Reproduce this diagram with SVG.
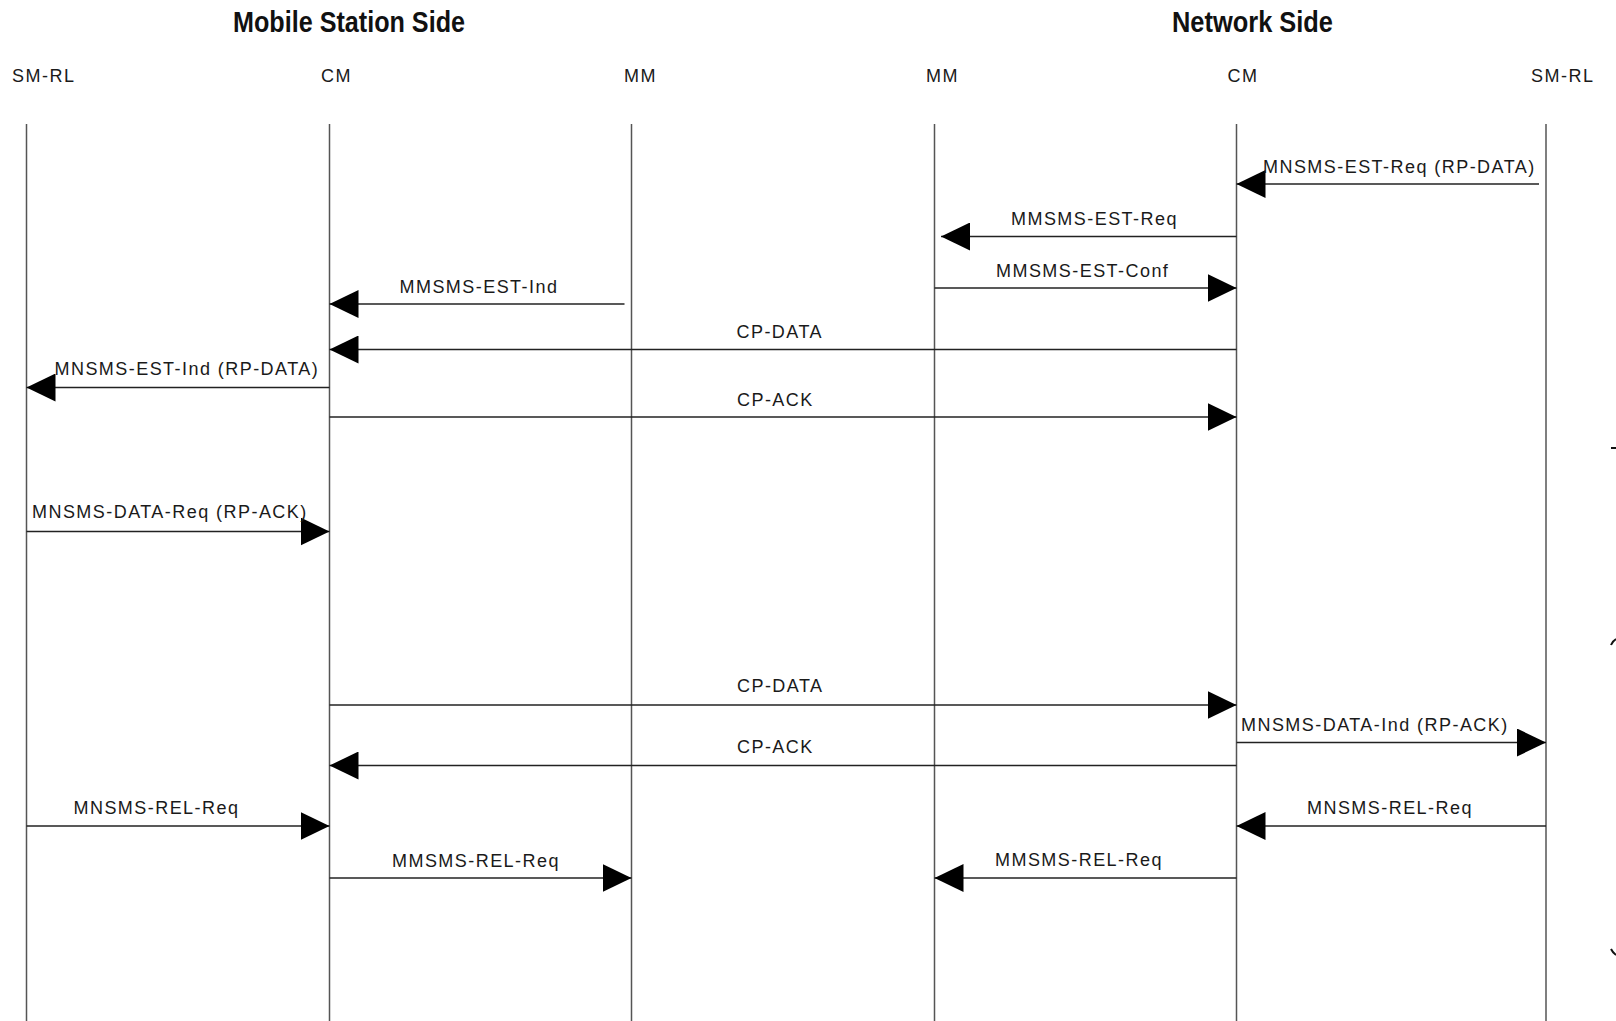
<svg xmlns="http://www.w3.org/2000/svg" width="1616" height="1021" viewBox="0 0 1616 1021">
<style>
.title{font-family:"Liberation Sans",Arial,sans-serif;font-weight:bold;font-size:29px;fill:#111}
.hdr{font-family:"Liberation Sans",Arial,sans-serif;font-size:18px;letter-spacing:1.5px;fill:#1a1a1a}
.lbl{font-family:"Liberation Sans",Arial,sans-serif;font-size:18px;letter-spacing:1.45px;fill:#1a1a1a}
.life{stroke:#555;stroke-width:1.5;fill:none}
.msg{stroke:#222;stroke-width:1.3;fill:none;marker-end:url(#ah)}
.edge{stroke:#111;stroke-width:2;fill:none}
</style>
<defs>
<marker id="ah" markerUnits="userSpaceOnUse" markerWidth="30" markerHeight="28" refX="29" refY="14" orient="auto">
<path d="M0,0 L29,14 L0,28 Z" fill="#000"/>
</marker>
</defs>
<rect width="1616" height="1021" fill="#fff"/>
<g id="titles">
<text class="title" x="233" y="31.5" textLength="232" lengthAdjust="spacingAndGlyphs">Mobile Station Side</text>
<text class="title" x="1172" y="31.5" textLength="161" lengthAdjust="spacingAndGlyphs">Network Side</text>
</g>
<g id="ms-smrl"><text class="hdr" x="12" y="81.5">SM-RL</text><line class="life" x1="26.5" y1="124" x2="26.5" y2="1021"/></g>
<g id="ms-cm"><text class="hdr" x="321" y="81.5">CM</text><line class="life" x1="329.5" y1="124" x2="329.5" y2="1021"/></g>
<g id="ms-mm"><text class="hdr" x="624" y="81.5">MM</text><line class="life" x1="631.5" y1="124" x2="631.5" y2="1021"/></g>
<g id="nw-mm"><text class="hdr" x="926" y="81.5">MM</text><line class="life" x1="934.5" y1="124" x2="934.5" y2="1021"/></g>
<g id="nw-cm"><text class="hdr" x="1227.5" y="81.5">CM</text><line class="life" x1="1236.5" y1="124" x2="1236.5" y2="1021"/></g>
<g id="nw-smrl"><text class="hdr" x="1531" y="81.5">SM-RL</text><line class="life" x1="1546" y1="124" x2="1546" y2="1021"/></g>
<g id="connectors">
<line class="msg" x1="1539" y1="184" x2="1236.5" y2="184"/>
<text class="lbl" x="1263" y="172.5">MNSMS-EST-Req (RP-DATA)</text>
<line class="msg" x1="1236.5" y1="236.5" x2="941" y2="236.5"/>
<text class="lbl" x="1011" y="225">MMSMS-EST-Req</text>
<line class="msg" x1="934.5" y1="288" x2="1236.5" y2="288"/>
<text class="lbl" x="996" y="277">MMSMS-EST-Conf</text>
<line class="msg" x1="624.5" y1="304" x2="329.5" y2="304"/>
<text class="lbl" x="399.5" y="293">MMSMS-EST-Ind</text>
<line class="msg" x1="1236.5" y1="349.5" x2="329.5" y2="349.5"/>
<text class="lbl" x="736.5" y="338">CP-DATA</text>
<line class="msg" x1="329.5" y1="387.5" x2="26.5" y2="387.5"/>
<text class="lbl" x="54.5" y="375">MNSMS-EST-Ind (RP-DATA)</text>
<line class="msg" x1="329.5" y1="417" x2="1236.5" y2="417"/>
<text class="lbl" x="737" y="406">CP-ACK</text>
<line class="msg" x1="26.5" y1="531.5" x2="329.5" y2="531.5"/>
<text class="lbl" x="32" y="518">MNSMS-DATA-Req (RP-ACK)</text>
<line class="msg" x1="329.5" y1="705" x2="1236.5" y2="705"/>
<text class="lbl" x="737" y="692">CP-DATA</text>
<line class="msg" x1="1236.5" y1="742.5" x2="1546" y2="742.5"/>
<text class="lbl" x="1241" y="731">MNSMS-DATA-Ind (RP-ACK)</text>
<line class="msg" x1="1236.5" y1="765.5" x2="329.5" y2="765.5"/>
<text class="lbl" x="737" y="753">CP-ACK</text>
<line class="msg" x1="26.5" y1="826" x2="329.5" y2="826"/>
<text class="lbl" x="73.5" y="814">MNSMS-REL-Req</text>
<line class="msg" x1="1546" y1="826" x2="1236.5" y2="826"/>
<text class="lbl" x="1307" y="814">MNSMS-REL-Req</text>
<line class="msg" x1="329.5" y1="878" x2="631.5" y2="878"/>
<text class="lbl" x="392" y="867">MMSMS-REL-Req</text>
<line class="msg" x1="1236.5" y1="878" x2="934.5" y2="878"/>
<text class="lbl" x="995" y="866">MMSMS-REL-Req</text>
</g>
<g id="edge-marks">
<path class="edge" d="M1611,448 L1616,448"/>
<path class="edge" d="M1611,645 Q1612.5,641 1616,639"/>
<path class="edge" d="M1611,949 Q1613,953 1616,955"/>
</g>
</svg>
